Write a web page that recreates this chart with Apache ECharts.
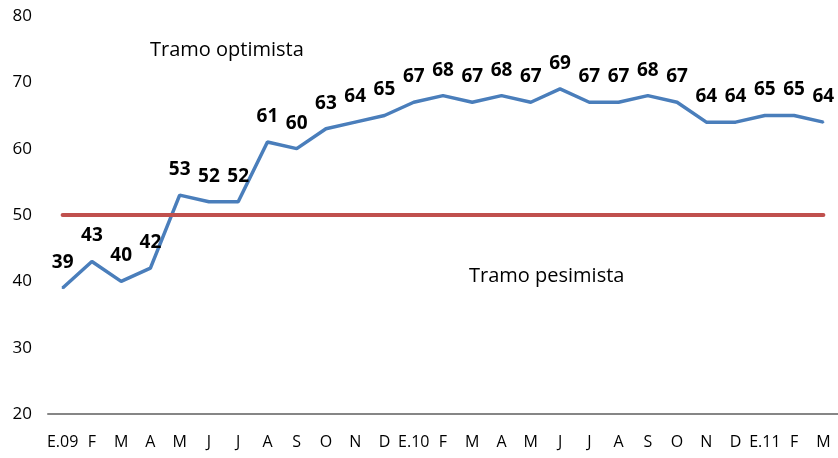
<!DOCTYPE html>
<html><head><meta charset="utf-8">
<script src="https://cdn.jsdelivr.net/npm/echarts@6/dist/echarts.min.js"></script>
<style>html,body{margin:0;padding:0;background:#fff}#c{width:838px;height:458px}</style>
</head><body><div id="c"></div>
<script>
const categories = ['E.09','F','M','A','M','J','J','A','S','O','N','D','E.10','F','M','A','M','J','J','A','S','O','N','D','E.11','F','M'];
const values = [39,43,40,42,53,52,52,61,60,63,64,65,67,68,67,68,67,69,67,67,68,67,64,64,65,65,64];
const threshold = 50;
const yTicks = {min:20, max:80, interval:10};
const annotations = ['Tramo optimista','Tramo pesimista'];
const FONT = 'Open Sans';

const chart = echarts.init(document.getElementById('c'));
chart.setOption({
  animation:false,
  grid:{left:48,right:0,top:16,bottom:44},
  xAxis:{type:'category',data:categories,boundaryGap:true,
    axisLine:{lineStyle:{color:'#868686',width:2}},
    axisTick:{show:false},
    axisLabel:{color:'#000',fontFamily:FONT,fontSize:16,interval:0,margin:20}},
  yAxis:{type:'value',min:yTicks.min,max:yTicks.max,interval:yTicks.interval,
    axisLine:{show:false},axisTick:{show:false},splitLine:{show:false},
    axisLabel:{color:'#000',fontFamily:FONT,fontSize:17,margin:16,align:'right'}},
  series:[{
    type:'line',data:values,symbol:'circle',symbolSize:2,showSymbol:true,
    itemStyle:{color:'#4a7ebb'},
    lineStyle:{color:'#4a7ebb',width:3.5},
    label:{show:true,position:'top',distance:15,fontFamily:FONT,fontWeight:'bold',fontSize:19,color:'#000'},
    markLine:{symbol:'none',silent:true,label:{show:false},
      lineStyle:{color:'#c0504d',width:4,type:'solid',cap:'round'},
      data:[[{xAxis:0,yAxis:threshold},{xAxis:categories.length-1,yAxis:threshold}]]}
  }],
  graphic:[
    {type:'text',left:150,top:40,style:{text:annotations[0],fontFamily:FONT,fontSize:20,fill:'#000'}},
    {type:'text',left:469,top:266,style:{text:annotations[1],fontFamily:FONT,fontSize:20,fill:'#000'}}
  ]
});
</script></body></html>
